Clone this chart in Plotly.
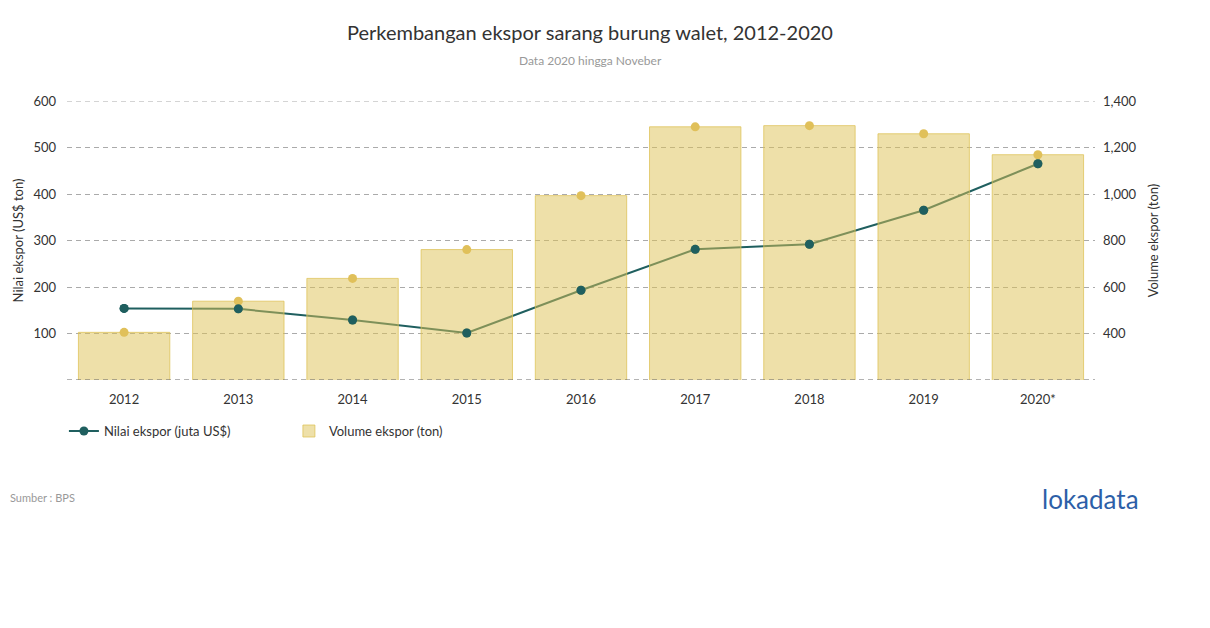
import plotly.graph_objects as go

years = ["2012", "2013", "2014", "2015", "2016", "2017", "2018", "2019", "2020*"]
nilai = [154, 153, 129, 101, 193, 281, 292, 365, 465]
volume = [405, 539, 637, 761, 993, 1289, 1294, 1259, 1169]

left_ticks = [0, 100, 200, 300, 400, 500, 600]
left_text = ["", "100", "200", "300", "400", "500", "600"]
right_ticks = [400, 600, 800, 1000, 1200, 1400]

TEAL = "#1f5f5f"
BAR_FILL = "rgba(222,194,84,0.5)"
BAR_LINE = "rgba(222,194,84,0.75)"
DOT = "#e0c05a"
FONT = "Lato"
DASH = "5px,4px"

# page body adds an 8px offset; compensate in margins
OFF = 8
L, T, PW, PH = 67 - OFF, 101 - OFF, 1028, 279

fig = go.Figure()

fig.add_trace(go.Scatter(
    x=years, y=nilai, name="Nilai ekspor (juta US$)", mode="lines+markers",
    line=dict(color=TEAL, width=2), marker=dict(color=TEAL, size=9),
    yaxis="y", hoverinfo="skip"))

fig.add_trace(go.Bar(
    x=years, y=volume, name="Volume ekspor (ton)", yaxis="y2",
    marker=dict(color=BAR_FILL, line=dict(color=BAR_LINE, width=1))))
fig.add_trace(go.Scatter(
    x=years, y=volume, mode="markers", yaxis="y2", showlegend=False,
    marker=dict(color=DOT, size=9)))

fig.add_trace(go.Scatter(
    x=years, y=nilai, mode="markers", yaxis="y3", showlegend=False,
    marker=dict(color=TEAL, size=9)))

fig.update_layout(
    width=1210, height=628,
    margin=dict(l=L, r=1210 - L - PW, t=T, b=628 - T - PH, autoexpand=False),
    paper_bgcolor="white", plot_bgcolor="white",
    font=dict(family=FONT, color="#333333", size=13),
    bargap=0.2,
    showlegend=True,
    legend=dict(orientation="h", x=-0.003, xanchor="left", y=-0.183, yanchor="middle",
                entrywidth=180, font=dict(size=13, color="#333333"),
                traceorder="normal"),
    xaxis=dict(type="category", showgrid=False, showline=False, ticks="", automargin=False,
               ticklabelstandoff=10,
               tickfont=dict(size=13, color="#333333")),
    yaxis=dict(range=[0, 600], tickvals=left_ticks, ticktext=left_text, automargin=False,
               showgrid=True, gridcolor="#aaaaaa", griddash=DASH, gridwidth=1,
               zeroline=False, showline=False, ticks="", ticklabelstandoff=10,
               title=dict(text="Nilai ekspor (US$ ton)", font=dict(size=13), standoff=6),
               tickfont=dict(size=13, color="#333333")),
    yaxis2=dict(range=[200, 1400], tickvals=right_ticks, overlaying="y", side="right",
                tickformat=",", showgrid=False, zeroline=False, showline=False, ticks="",
                automargin=False, ticklabelstandoff=7,
                title=dict(text="Volume ekspor (ton)", font=dict(size=13), standoff=13),
                tickfont=dict(size=13, color="#333333")),
    yaxis3=dict(range=[0, 600], overlaying="y", visible=False),
)

fig.add_shape(type="line", xref="paper", yref="y", x0=0, x1=1, y0=0, y1=0,
              line=dict(color="#666666", width=1, dash=DASH), layer="above")
fig.add_shape(type="line", xref="paper", yref="y", x0=0, x1=1, y0=600, y1=600,
              line=dict(color="#aaaaaa", width=1, dash=DASH), layer="below")

fig.add_annotation(text="Perkembangan ekspor sarang burung walet, 2012-2020",
                   xref="paper", yref="paper", x=(590 - 67) / PW, y=1 + (101 - 32) / PH,
                   xanchor="center", yanchor="middle", showarrow=False,
                   font=dict(size=20, color="#333333", family=FONT))
fig.add_annotation(text="Data 2020 hingga Noveber",
                   xref="paper", yref="paper", x=(590 - 67) / PW, y=1 + (101 - 61) / PH,
                   xanchor="center", yanchor="middle", showarrow=False,
                   font=dict(size=12, color="#999999", family=FONT))
fig.add_annotation(text="Sumber : BPS",
                   xref="paper", yref="paper", x=-L / PW, y=(380 - 497) / PH,
                   xanchor="left", yanchor="middle", showarrow=False,
                   font=dict(size=11, color="#999999", family=FONT))
fig.add_annotation(text="lokadata",
                   xref="paper", yref="paper", x=(1141 - 67) / PW, y=(380 - 499) / PH,
                   xanchor="right", yanchor="middle", showarrow=False,
                   font=dict(size=26, color="#2d5fa8", family=FONT))

fig.write_html("out.html")
